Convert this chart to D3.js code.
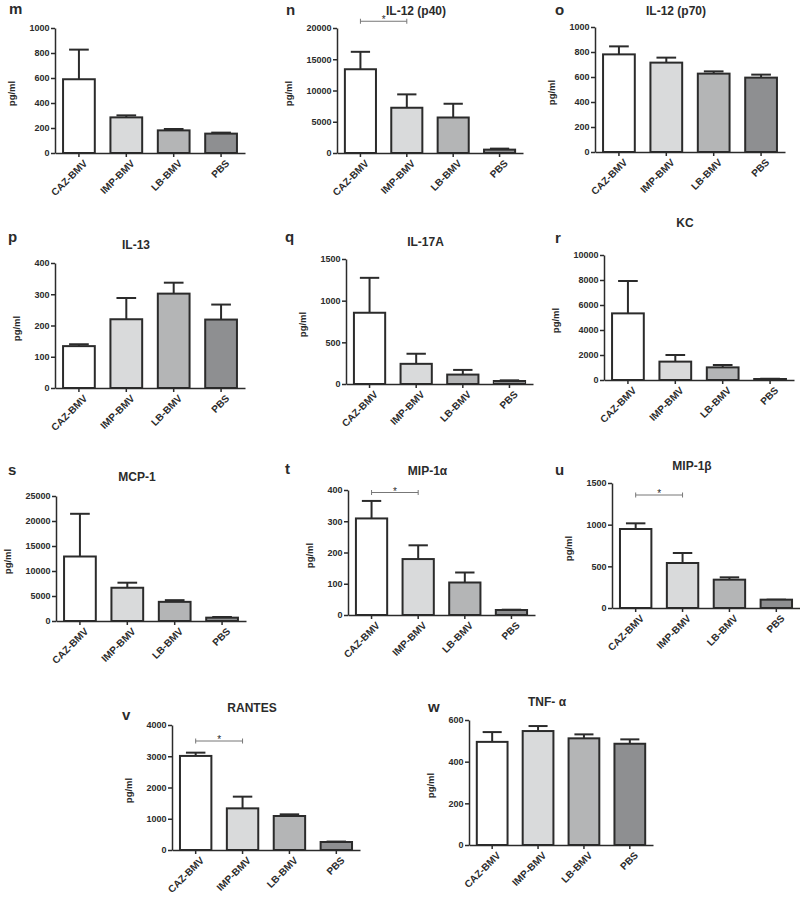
<!DOCTYPE html>
<html>
<head>
<meta charset="utf-8">
<script src="https://cdn.jsdelivr.net/npm/d3@7"></script>
<style>
  body { margin: 0; background: #fff; }
  svg { display: block; }
  text { font-family: 'Liberation Sans', Arial, sans-serif; font-weight: bold; fill: #2b2b2b; }
</style>
</head>
<body>
<svg id="chart" width="800" height="897"></svg>
<script>
// values (mean, upper end of error bar)
const groups = ['CAZ-BMV', 'IMP-BMV', 'LB-BMV', 'PBS']
const panelIds = ['m', 'n', 'o', 'p', 'q', 'r', 's', 't', 'u', 'v', 'w']
const titles = ['', 'IL-12 (p40)', 'IL-12 (p70)', 'IL-13', 'IL-17A', 'KC', 'MCP-1', 'MIP-1α', 'MIP-1β', 'RANTES', 'TNF- α']
const means = [
  [590, 285, 181, 155],
  [13400, 7240, 5680, 540],
  [781, 715, 627, 595],
  [134, 220, 302, 219],
  [855, 242, 113, 36],
  [5330, 1470, 1010, 80],
  [12900, 6650, 3830, 670],
  [309, 179, 104, 16],
  [948, 540, 340, 100],
  [3010, 1333, 1088, 256],
  [495, 547, 512, 486]
]
const upper = [
  [827, 301, 192, 163],
  [16190, 9380, 7880, 700],
  [845, 755, 645, 619],
  [140, 288, 337, 267],
  [1274, 363, 169, 44],
  [7920, 2000, 1200, 100],
  [21440, 7660, 4170, 800],
  [365, 223, 136, 17],
  [1016, 660, 368, 100],
  [3115, 1707, 1141, 270],
  [542, 571, 531, 507]
]
const yMax = [1000, 20000, 1000, 400, 1500, 10000, 25000, 400, 1500, 4000, 600]
const yStep = [200, 5000, 200, 100, 500, 2000, 5000, 100, 500, 1000, 200]
// CAZ-BMV vs IMP-BMV significance bracket level (data units), null = none
const sigLevel = [null, 21080, null, null, null, null, null, 392, 1356, 3488, null]

const fills = ['#ffffff', '#d9dadb', '#b4b5b6', '#8e8f91']

// panel placement: axis x, zero line y, axis width, letter x/y, title lift
const layout = [
  { x: 55, y0: 153, w: 190, lx: 9, ly: 14, tl: 13 },
  { x: 337, y0: 153, w: 186, lx: 286, ly: 15, tl: 13 },
  { x: 595, y0: 152, w: 190, lx: 555, ly: 15, tl: 12 },
  { x: 55, y0: 388, w: 190, lx: 8, ly: 242, tl: 14 },
  { x: 346, y0: 384, w: 187, lx: 285, ly: 242, tl: 13 },
  { x: 604, y0: 380, w: 190, lx: 555, ly: 243, tl: 28 },
  { x: 56, y0: 621, w: 190, lx: 8, ly: 475, tl: 15 },
  { x: 348, y0: 615, w: 187, lx: 285, ly: 474, tl: 15 },
  { x: 612, y0: 608, w: 188, lx: 555, ly: 475, tl: 13 },
  { x: 172, y0: 850, w: 188, lx: 122, ly: 720, tl: 13 },
  { x: 469, y0: 845, w: 184, lx: 428, ly: 712, tl: 14 }
]
const plotH = 125

const svg = d3.select('#chart')

const drawPanel = (i) => {
  const L = layout[i]
  const g = svg.append('g').attr('transform', `translate(${L.x},${L.y0 - plotH})`)
  const x = d3.scaleBand().domain(groups).range([0, L.w]).paddingInner(0.33).paddingOuter(0.17)
  const y = d3.scaleLinear().domain([0, yMax[i]]).range([plotH, 0])
  const rows = groups.map((k, j) => ({ k, m: means[i][j], u: upper[i][j], c: fills[j] }))
  const cx = (d) => x(d.k) + x.bandwidth() / 2
  const cap = x.bandwidth() * 0.31

  // error bars (upper only)
  const eb = g.append('g').attr('stroke', '#2b2b2b').attr('stroke-width', 2)
  eb.selectAll('line.v').data(rows).enter().append('line').attr('class', 'v')
    .attr('x1', cx).attr('x2', cx)
    .attr('y1', (d) => y(d.m)).attr('y2', (d) => y(d.u))
  eb.selectAll('line.c').data(rows).enter().append('line').attr('class', 'c')
    .attr('x1', (d) => cx(d) - cap).attr('x2', (d) => cx(d) + cap)
    .attr('y1', (d) => y(d.u)).attr('y2', (d) => y(d.u))

  g.append('g').selectAll('rect').data(rows).enter().append('rect')
    .attr('x', (d) => x(d.k))
    .attr('y', (d) => y(d.m))
    .attr('width', x.bandwidth())
    .attr('height', (d) => plotH - y(d.m))
    .style('fill', (d) => d.c)
    .style('stroke', '#2b2b2b').style('stroke-width', 2)

  // y axis
  const ya = g.append('g')
    .call(d3.axisLeft(y).tickValues(d3.range(0, yMax[i] + 1, yStep[i]))
      .tickFormat(d3.format('d')).tickSize(4).tickPadding(1.5).tickSizeOuter(0))
  ya.select('.domain').attr('stroke', '#2b2b2b').attr('stroke-width', 1.5)
  ya.selectAll('.tick line').attr('stroke', '#2b2b2b').attr('stroke-width', 1.5)
  ya.selectAll('.tick text').style('font-size', '9px').attr('fill', '#2b2b2b')
  ya.attr('font-family', null)

  // x axis
  const xa = g.append('g').attr('transform', `translate(0,${plotH})`)
    .call(d3.axisBottom(x).tickSize(4).tickSizeOuter(0).tickFormat(''))
  xa.select('.domain').attr('stroke', '#2b2b2b').attr('stroke-width', 1.5)
  xa.selectAll('.tick line').attr('stroke', '#2b2b2b').attr('stroke-width', 1.5)
  xa.attr('font-family', null)

  g.append('g').selectAll('text').data(groups).enter().append('text')
    .attr('transform', (d) => `translate(${x(d) + x.bandwidth() / 2 + 4},${plotH + 6}) rotate(-45)`)
    .attr('dy', '0.7em')
    .style('text-anchor', 'end')
    .style('font-size', '10px')
    .text((d) => d)

  // y label
  const bb = ya.node().getBBox()
  g.append('text')
    .attr('transform', `translate(${bb.x - 14},${plotH / 2 + 3}) rotate(-90)`)
    .style('text-anchor', 'middle')
    .style('font-size', '9.5px')
    .text('pg/ml')

  // title
  if (titles[i]) {
    g.append('text')
      .attr('x', L.w / 2 - 14)
      .attr('y', -L.tl)
      .style('text-anchor', 'middle')
      .style('font-size', '12px')
      .text(titles[i])
  }

  // significance bracket
  if (sigLevel[i] !== null) {
    const x1 = cx(rows[0])
    const x2 = cx(rows[1])
    const by = y(sigLevel[i])
    const sg = g.append('g').attr('stroke', '#777').attr('stroke-width', 1)
    sg.append('line').attr('x1', x1).attr('x2', x2).attr('y1', by).attr('y2', by)
    sg.append('line').attr('x1', x1).attr('x2', x1).attr('y1', by - 2.5).attr('y2', by + 2.5)
    sg.append('line').attr('x1', x2).attr('x2', x2).attr('y1', by - 2.5).attr('y2', by + 2.5)
    g.append('text')
      .attr('x', (x1 + x2) / 2).attr('y', by + 2)
      .style('text-anchor', 'middle')
      .style('font-size', '10px').style('font-weight', 'normal')
      .text('*')
  }

  // panel letter
  svg.append('text')
    .attr('x', L.lx).attr('y', L.ly)
    .style('font-size', '15px')
    .text(panelIds[i])
}

panelIds.forEach((_, i) => drawPanel(i))
</script>
</body>
</html>
